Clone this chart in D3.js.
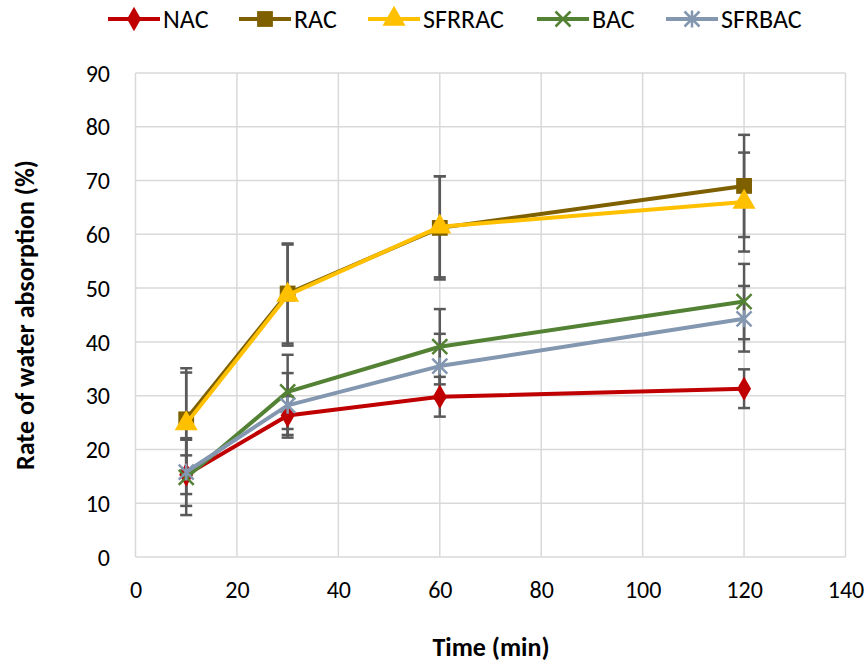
<!DOCTYPE html>
<html><head><meta charset="utf-8">
<script src="https://cdn.jsdelivr.net/npm/d3@7"></script>
<style>body{margin:0;background:#fff}svg{display:block}</style>
</head><body>
<svg id="c" width="868" height="669"></svg>
<script>
const times = [10, 30, 60, 120];
const seriesNames = ["NAC", "RAC", "SFRRAC", "BAC", "SFRBAC"];
const NAC    = [15.3, 26.3, 29.8, 31.3];
const RAC    = [25.6, 49.0, 61.2, 69.0];
const SFRRAC = [24.8, 48.7, 61.4, 66.0];
const BAC    = [14.8, 30.7, 39.1, 47.5];
const SFRBAC = [15.8, 28.2, 35.5, 44.3];
const errNAC    = [3.6, 3.6, 3.7, 3.6];
const errRAC    = [9.5, 9.3, 9.6, 9.5];
const errSFRRAC = [9.5, 9.4, 9.4, 9.2];
const errBAC    = [7.0, 6.9, 7.0, 7.0];
const errSFRBAC = [6.3, 6.0, 6.0, 6.1];
const xTicks = [0, 20, 40, 60, 80, 100, 120, 140];
const yTicks = [0, 10, 20, 30, 40, 50, 60, 70, 80, 90];

const colors = ["#C00000", "#7F6000", "#FFC000", "#548235", "#8497B0"];
const markers = ["diamond", "square", "triangle", "x", "star"];
const values = [NAC, RAC, SFRRAC, BAC, SFRBAC];
const errs = [errNAC, errRAC, errSFRRAC, errBAC, errSFRBAC];

const svg = d3.select("#c");
const font = "Calibri, Carlito, Lato, sans-serif";
const x = d3.scaleLinear().domain([0, 140]).range([135.5, 845.5]);
const y = d3.scaleLinear().domain([0, 90]).range([557, 73]);

// grid
const g = svg.append("g");
g.selectAll("line.h").data(yTicks).join("line")
  .attr("x1", x(0)).attr("x2", x(140)).attr("y1", d => y(d)).attr("y2", d => y(d))
  .attr("stroke", "#d9d9d9").attr("stroke-width", 1.5);
g.selectAll("line.v").data(xTicks).join("line")
  .attr("y1", y(0)).attr("y2", y(90)).attr("x1", d => x(d)).attr("x2", d => x(d))
  .attr("stroke", "#d9d9d9").attr("stroke-width", 1.5);

// axes tick labels
const xAxis = d3.axisBottom(x).tickValues(xTicks).tickSize(0).tickPadding(0);
const gx = svg.append("g").attr("transform", `translate(0,${y(0)})`).call(xAxis);
gx.select(".domain").remove();
gx.selectAll("text").attr("y", 0).attr("dy", 41).attr("font-family", font).attr("font-size", 24).attr("fill", "#000");

const yAxis = d3.axisLeft(y).tickValues(yTicks).tickSize(0).tickPadding(0);
const gy = svg.append("g").attr("transform", `translate(110,0)`).call(yAxis);
gy.select(".domain").remove();
gy.selectAll("text").attr("dy", "0.34em").attr("font-family", font).attr("font-size", 24).attr("fill", "#000");

// titles
svg.append("text").attr("x", 491).attr("y", 656).attr("text-anchor", "middle")
  .attr("font-family", font).attr("font-weight", "bold").attr("font-size", 26).text("Time (min)");
svg.append("text").attr("transform", `translate(34,315) rotate(-90)`).attr("text-anchor", "middle")
  .attr("font-family", font).attr("font-weight", "bold").attr("font-size", 26).text("Rate of water absorption (%)");

// error bars
const eb = svg.append("g").attr("stroke", "#595959").attr("stroke-width", 2.5);
values.forEach((vals, si) => {
  vals.forEach((v, i) => {
    const e = errs[si][i], cx = x(times[i]);
    eb.append("line").attr("x1", cx).attr("x2", cx).attr("y1", y(v - e)).attr("y2", y(v + e));
    [v - e, v + e].forEach(t => eb.append("line").attr("x1", cx - 6).attr("x2", cx + 6).attr("y1", y(t)).attr("y2", y(t)));
  });
});

function drawMarker(sel, type, color, cx, cy) {
  if (type === "diamond") {
    sel.append("path").attr("d", d3.symbol(d3.symbolDiamond, 170)()).attr("transform", `translate(${cx},${cy})`).attr("fill", color);
  } else if (type === "square") {
    sel.append("path").attr("d", d3.symbol(d3.symbolSquare, 250)()).attr("transform", `translate(${cx},${cy})`).attr("fill", color);
  } else if (type === "triangle") {
    sel.append("path").attr("d", d3.symbol(d3.symbolTriangle, 230)()).attr("transform", `translate(${cx},${cy})`).attr("fill", color);
  } else if (type === "x") {
    const r = 7.5;
    sel.append("path").attr("d", `M${cx-r},${cy-r}L${cx+r},${cy+r}M${cx-r},${cy+r}L${cx+r},${cy-r}`)
      .attr("stroke", color).attr("stroke-width", 2.5).attr("fill", "none");
  } else if (type === "star") {
    const r = 7.5;
    sel.append("path").attr("d", `M${cx-r},${cy-r}L${cx+r},${cy+r}M${cx-r},${cy+r}L${cx+r},${cy-r}M${cx},${cy-r-1}L${cx},${cy+r+1}`)
      .attr("stroke", color).attr("stroke-width", 2.5).attr("fill", "none");
  }
}

// lines + markers
const line = d3.line().x((d, i) => x(times[i])).y(d => y(d));
values.forEach((vals, si) => {
  const s = svg.append("g");
  s.append("path").datum(vals).attr("d", line).attr("fill", "none")
    .attr("stroke", colors[si]).attr("stroke-width", 4).attr("stroke-linejoin", "round");
  vals.forEach((v, i) => drawMarker(s, markers[si], colors[si], x(times[i]), y(v)));
});

// legend
const legX = [108, 239, 368, 537, 666];
const leg = svg.append("g");
seriesNames.forEach((n, i) => {
  const ly = 19;
  leg.append("line").attr("x1", legX[i]).attr("x2", legX[i] + 52).attr("y1", ly).attr("y2", ly)
    .attr("stroke", colors[i]).attr("stroke-width", 4);
  drawMarker(leg, markers[i], colors[i], legX[i] + 26, ly);
  leg.append("text").attr("x", legX[i] + 55).attr("y", ly + 9).attr("font-family", font)
    .attr("font-size", 26).text(n);
});
</script>
</body></html>
